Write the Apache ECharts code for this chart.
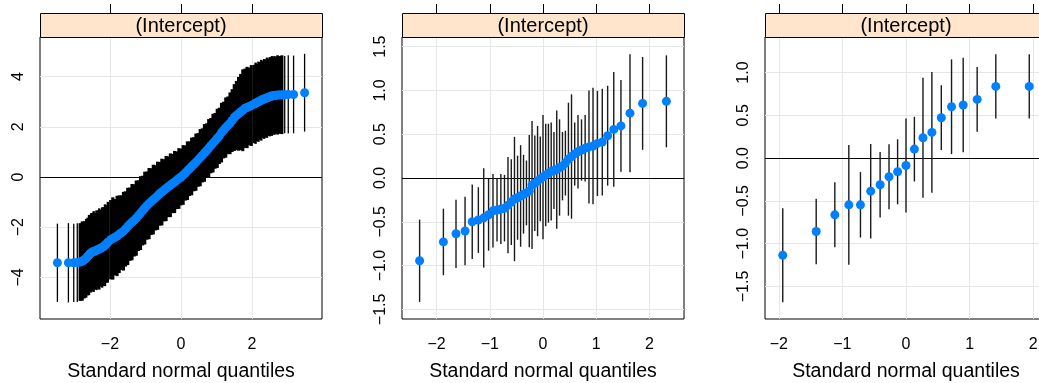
<!DOCTYPE html>
<html><head><meta charset="utf-8">
<script src="https://cdn.jsdelivr.net/npm/echarts@6/dist/echarts.min.js"></script>
<style>html,body{margin:0;padding:0;background:#fff}#c{width:1039px;height:383px}</style>
</head><body><div id="c"></div>
<script>
// ---------- data: panel 1 (standard normal quantile, estimate, half-width of interval) ----------
const x1 = [-3.48,-3.17,-3.02,-2.92,-2.84,-2.78,-2.72,-2.67,-2.63,-2.59,-2.56,-2.53,-2.50,-2.46,-2.42,-2.38,-2.34,-2.30,-2.26,-2.22,-2.18,-2.14,-2.10,-2.06,
 -1.98,-1.92,-1.86,-1.80,-1.74,-1.68,-1.62,-1.56,-1.50,-1.44,-1.38,-1.32,-1.26,-1.20,-1.14,-1.08,-1.02,-0.96,-0.90,-0.84,-0.78,-0.72,-0.66,-0.60,-0.54,-0.48,-0.42,-0.36,-0.30,-0.24,-0.18,-0.12,-0.06,0,
 0.06,0.12,0.18,0.24,0.30,0.36,0.42,0.48,0.54,0.60,0.66,0.72,0.78,0.84,0.90,0.96,1.02,1.08,1.14,1.20,1.26,1.32,1.38,1.44,1.50,1.56,1.62,1.68,1.74,1.80,1.86,1.92,1.98,
 2.06,2.10,2.14,2.18,2.22,2.26,2.30,2.34,2.38,2.42,2.46,2.50,2.53,2.56,2.59,2.63,2.67,2.72,2.78,2.84,2.92,3.02,3.17,3.48];
const y1 = [-3.42,-3.42,-3.42,-3.41,-3.39,-3.35,-3.30,-3.24,-3.17,-3.11,-3.06,-3.02,-2.99,-2.97,-2.95,-2.92,-2.89,-2.87,-2.84,-2.81,-2.77,-2.72,-2.67,-2.60,
 -2.50,-2.45,-2.40,-2.35,-2.28,-2.22,-2.16,-2.07,-1.97,-1.88,-1.80,-1.73,-1.64,-1.54,-1.44,-1.34,-1.24,-1.14,-1.06,-0.98,-0.90,-0.83,-0.75,-0.67,-0.60,-0.53,-0.46,-0.39,-0.33,-0.26,-0.20,-0.13,-0.06,0.00,
 0.08,0.16,0.25,0.33,0.42,0.51,0.59,0.68,0.77,0.86,0.96,1.05,1.15,1.25,1.35,1.44,1.54,1.64,1.77,1.87,1.97,2.06,2.14,2.25,2.37,2.45,2.52,2.59,2.66,2.74,2.77,2.81,2.85,
 2.91,2.94,2.97,3.00,3.03,3.06,3.09,3.11,3.13,3.16,3.18,3.20,3.22,3.23,3.24,3.25,3.26,3.27,3.27,3.28,3.28,3.29,3.29,3.36];
const e1 = [1.56,1.58,1.56,1.57,1.55,1.58,1.54,1.57,1.55,1.60,1.53,1.58,1.55,1.61,1.52,1.59,1.56,1.62,1.53,1.60,1.57,1.63,1.55,1.61,
 1.58,1.64,1.52,1.60,1.55,1.49,1.57,1.50,1.54,1.46,1.52,1.44,1.50,1.41,1.47,1.39,1.45,1.36,1.42,1.33,1.39,1.30,1.36,1.27,1.33,1.24,1.30,1.21,1.27,1.18,1.24,1.15,1.21,1.13,
 1.19,1.10,1.17,1.09,1.15,1.08,1.14,1.07,1.14,1.08,1.15,1.09,1.16,1.10,1.17,1.11,1.18,1.12,1.19,1.13,1.20,1.15,1.23,1.25,1.33,1.38,1.47,1.52,1.63,1.58,1.62,1.55,1.61,
 1.56,1.62,1.54,1.60,1.55,1.61,1.53,1.59,1.56,1.60,1.54,1.58,1.55,1.59,1.53,1.57,1.54,1.58,1.55,1.57,1.54,1.56,1.55,1.55];
const xTicks1 = [-2, 0, 2];
const yTicks1 = [-4, -2, 0, 2, 4];

// ---------- data: panel 2 ----------
const x2 = [-2.319,-1.872,-1.635,-1.465,-1.330,-1.215,-1.114,-1.023,-0.940,-0.864,-0.792,-0.724,-0.658,-0.596,-0.536,-0.478,-0.421,-0.366,-0.311,-0.258,-0.206,-0.154,-0.102,-0.051,0,
 0.051,0.102,0.154,0.206,0.258,0.311,0.366,0.421,0.478,0.536,0.596,0.658,0.724,0.792,0.864,0.940,1.023,1.114,1.215,1.330,1.465,1.635,1.872,2.319];
const y2 = [-0.945,-0.73,-0.637,-0.605,-0.50,-0.48,-0.455,-0.42,-0.375,-0.365,-0.355,-0.345,-0.31,-0.275,-0.24,-0.225,-0.205,-0.185,-0.17,-0.15,-0.08,-0.06,-0.035,-0.01,0.01,
 0.035,0.055,0.075,0.085,0.095,0.12,0.135,0.17,0.215,0.245,0.275,0.30,0.32,0.34,0.355,0.365,0.395,0.41,0.483,0.555,0.595,0.74,0.852,0.875];
const e2 = [0.47,0.38,0.39,0.39,0.425,0.375,0.566,0.41,0.42,0.36,0.40,0.38,0.55,0.49,0.71,0.48,0.58,0.45,0.37,0.64,0.73,0.545,0.63,0.485,0.71,
 0.585,0.565,0.56,0.44,0.675,0.55,0.39,0.37,0.645,0.71,0.36,0.42,0.35,0.38,0.645,0.665,0.60,0.61,0.57,0.655,0.525,0.673,0.53,0.525];
const xTicks2 = [-2, -1, 0, 1, 2];
const yTicks2 = [-1.5, -1, -0.5, 0, 0.5, 1, 1.5];

// ---------- data: panel 3 ----------
const x3 = [-1.938,-1.412,-1.119,-0.899,-0.716,-0.555,-0.407,-0.267,-0.132,0,0.132,0.267,0.407,0.555,0.716,0.899,1.119,1.412,1.938];
const y3 = [-1.135,-0.858,-0.663,-0.546,-0.546,-0.386,-0.312,-0.218,-0.160,-0.086,0.105,0.238,0.300,0.472,0.600,0.620,0.686,0.838,0.838];
const e3 = [0.55,0.382,0.38,0.70,0.382,0.552,0.382,0.38,0.38,0.55,0.378,0.70,0.705,0.378,0.553,0.553,0.378,0.376,0.376];
const xTicks3 = [-2, -1, 0, 1, 2];
const yTicks3 = [-1.5, -1, -0.5, 0, 0.5, 1];

const stripLabel = '(Intercept)';
const xTitle = 'Standard normal quantiles';

// ---------- layout / style ----------
const FONT = '"Liberation Sans", Arial, Helvetica, sans-serif';
const W = 282, TOP = 37, H = 282, STRIP = 24;
const panels = [
  {x:x1, y:y1, e:e1, xt:xTicks1, yt:yTicks1, xr:[-3.97,3.97], yr:[-5.66,5.58], dec:0, left:40},
  {x:x2, y:y2, e:e2, xt:xTicks2, yt:yTicks2, xr:[-2.65,2.65], yr:[-1.61,1.61], dec:1, left:402},
  {x:x3, y:y3, e:e3, xt:xTicks3, yt:yTicks3, xr:[-2.217,2.217], yr:[-1.88,1.415], dec:1, left:765}
];
function fmt(v, d) { const s = Math.abs(v).toFixed(d); return (v < 0 ? '\u2212' : '') + s; }

const grid = [], xAxis = [], yAxis = [], series = [], graphic = [];
panels.forEach((p, i) => {
  grid.push({left: p.left, top: TOP, width: W, height: H, show: true, borderColor: '#000', borderWidth: 1,
    backgroundColor: 'transparent', containLabel: false, outerBoundsMode: 'none'});
  xAxis.push({
    gridIndex: i, type: 'value', min: p.xr[0], max: p.xr[1], position: 'bottom',
    axisLine: {show: false}, splitLine: {show: false},
    axisTick: {show: true, customValues: p.xt, length: 7, lineStyle: {color: '#000', width: 1}},
    axisLabel: {customValues: p.xt, formatter: v => fmt(v, 0), fontFamily: FONT, fontSize: 16, color: '#000', margin: 18},
    name: xTitle, nameLocation: 'middle', nameGap: 43,
    nameTextStyle: {fontFamily: FONT, fontSize: 19.5, color: '#000'}
  });
  xAxis.push({
    gridIndex: i, type: 'value', min: p.xr[0], max: p.xr[1], position: 'top', offset: STRIP,
    axisLine: {show: false}, splitLine: {show: false}, axisLabel: {show: false},
    axisTick: {show: true, customValues: p.xt, length: 9, lineStyle: {color: '#000', width: 1}}
  });
  yAxis.push({
    gridIndex: i, type: 'value', min: p.yr[0], max: p.yr[1],
    axisLine: {show: false}, splitLine: {show: false},
    axisTick: {show: true, customValues: p.yt, length: 7, lineStyle: {color: '#000', width: 1}},
    axisLabel: {customValues: p.yt, rotate: 90, formatter: v => fmt(v, p.dec), fontFamily: FONT, fontSize: 16, color: '#000', margin: 13}
  });
  // gap to neighbours (for bar thickness in dense panel)
  const data = p.x.map((xv, k) => {
    const gl = k > 0 ? xv - p.x[k-1] : 1, gr = k < p.x.length - 1 ? p.x[k+1] - xv : 1;
    return [xv, p.y[k], p.e[k], Math.min(gl, gr)];
  });
  series.push({
    type: 'custom', xAxisIndex: 2*i, yAxisIndex: i, z: 3, silent: true,
    data: data,
    renderItem: function (params, api) {
      const xv = api.value(0), yv = api.value(1), ev = api.value(2), g = api.value(3);
      const a = api.coord([xv, yv - ev]), b = api.coord([xv, yv + ev]);
      let lw = 1.4, col = '#1a1a1a';
      if (i === 0) {
        const q1 = api.coord([xv - g/2, yv]), q2 = api.coord([xv + g/2, yv]);
        const px = q2[0] - q1[0];
        lw = px < 2.5 ? Math.max(2.4, px + 1.0) : 1.3;
        col = '#000';
      }
      return {type: 'line', shape: {x1: a[0], y1: a[1], x2: b[0], y2: b[1]}, style: {stroke: col, lineWidth: lw}};
    }
  });
  series.push({
    type: 'scatter', xAxisIndex: 2*i, yAxisIndex: i, z: 4, silent: true,
    symbol: 'circle', symbolSize: 9, itemStyle: {color: '#0080FF', opacity: 1},
    data: p.x.map((xv, k) => [xv, p.y[k]]),
    markLine: {
      silent: true, symbol: 'none', z: 1, animation: false, label: {show: false},
      data: [
        ...p.xt.map(v => ({xAxis: v, lineStyle: {color: '#E6E6E6', width: 1, type: 'solid'}})),
        ...p.yt.map(v => ({yAxis: v, lineStyle: {color: '#E6E6E6', width: 1, type: 'solid'}})),
        {yAxis: 0, lineStyle: {color: '#000', width: 1, type: 'solid'}}
      ]
    }
  });
  graphic.push({type: 'rect', z: 10, shape: {x: p.left + 0.5, y: TOP - STRIP + 0.5, width: W, height: STRIP},
    style: {fill: '#FFE5CC', stroke: '#000', lineWidth: 1}});
  graphic.push({type: 'text', z: 11, x: p.left + W/2, y: TOP - STRIP/2 + 1,
    style: {text: stripLabel, fontFamily: FONT, fontSize: 20, fill: '#000', align: 'center', verticalAlign: 'middle'}});
});

const chart = echarts.init(document.getElementById('c'), null, {renderer: 'canvas'});
chart.setOption({backgroundColor: '#fff', animation: false, grid, xAxis, yAxis, series, graphic});
</script></body></html>
